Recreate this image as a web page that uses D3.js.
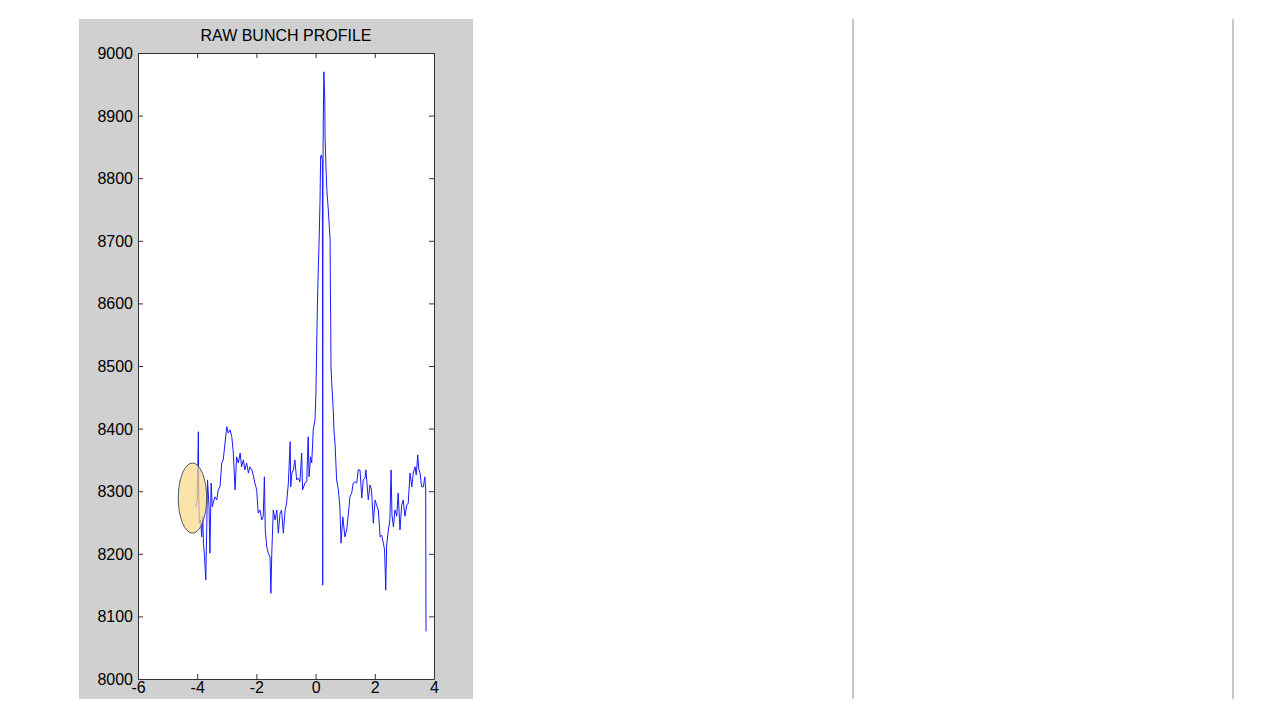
<!DOCTYPE html>
<html>
<head>
<meta charset="utf-8">
<script src="https://cdn.jsdelivr.net/npm/d3@7"></script>
<style>
  html, body { margin: 0; padding: 0; background: #ffffff; }
  svg { display: block; font-family: "Liberation Sans", Arial, sans-serif; }
</style>
</head>
<body>
<svg id="chart" width="1280" height="720"></svg>
<script>
// ---------- data ----------
const chartTitle = "RAW BUNCH PROFILE";
const xDomain = [-6, 4];
const yDomain = [8000, 9000];
const xTicks = [-6, -4, -2, 0, 2, 4];
const yTicks = [8000, 8100, 8200, 8300, 8400, 8500, 8600, 8700, 8800, 8900, 9000];

const profileX = [
  -4.04, -4.00, -3.96, -3.95, -3.93, -3.88, -3.85, -3.81, -3.79, -3.76,
  -3.71, -3.68, -3.65, -3.60, -3.57, -3.53, -3.49, -3.46, -3.40, -3.34,
  -3.29, -3.23, -3.17, -3.12, -3.06, -3.00, -2.95, -2.89, -2.83, -2.78,
  -2.72, -2.67, -2.61, -2.55, -2.50, -2.44, -2.39, -2.33, -2.27, -2.22,
  -2.15, -2.11, -2.05, -1.99, -1.94, -1.88, -1.82, -1.77, -1.73, -1.70,
  -1.65, -1.60, -1.54, -1.51, -1.48, -1.43, -1.37, -1.31, -1.26, -1.20,
  -1.15, -1.09, -1.03, -0.98, -0.92, -0.86, -0.84, -0.80, -0.75, -0.70,
  -0.64, -0.58, -0.53, -0.47, -0.44, -0.36, -0.30, -0.25, -0.22, -0.17,
  -0.13, -0.08, -0.02, 0.01, 0.06, 0.09, 0.12, 0.15, 0.17, 0.19,
  0.23, 0.24, 0.25, 0.26, 0.28, 0.31, 0.32, 0.35, 0.38, 0.43,
  0.46, 0.49, 0.50, 0.51, 0.52, 0.54, 0.60, 0.62, 0.66, 0.71,
  0.77, 0.82, 0.86, 0.92, 0.99, 1.05, 1.11, 1.16, 1.22, 1.27,
  1.33, 1.39, 1.44, 1.50, 1.56, 1.61, 1.67, 1.70, 1.78, 1.84,
  1.89, 1.95, 2.01, 2.06, 2.12, 2.18, 2.23, 2.29, 2.33, 2.37,
  2.40, 2.46, 2.51, 2.55, 2.58, 2.63, 2.68, 2.74, 2.79, 2.85,
  2.91, 2.96, 3.02, 3.08, 3.13, 3.19, 3.25, 3.30, 3.36, 3.40,
  3.45, 3.49, 3.53, 3.58, 3.64, 3.69, 3.72, 3.73
];
const profileY = [
  8275, 8286, 8395, 8302, 8249, 8254, 8227, 8259, 8217, 8201,
  8158, 8238, 8318, 8275, 8201, 8313, 8275, 8281, 8291, 8286,
  8302, 8307, 8345, 8350, 8377, 8403, 8393, 8398, 8387, 8361,
  8302, 8355, 8345, 8361, 8339, 8350, 8334, 8345, 8329, 8339,
  8334, 8326, 8313, 8302, 8265, 8270, 8254, 8259, 8323, 8238,
  8211, 8201, 8195, 8137, 8201, 8270, 8254, 8270, 8233, 8265,
  8270, 8233, 8270, 8281, 8313, 8379, 8307, 8329, 8334, 8350,
  8318, 8321, 8315, 8361, 8302, 8313, 8315, 8387, 8323, 8355,
  8345, 8398, 8414, 8454, 8595, 8653, 8701, 8765, 8834, 8837,
  8829, 8150, 8813, 8893, 8970, 8925, 8864, 8819, 8781, 8749,
  8725, 8701, 8621, 8573, 8499, 8478, 8425, 8398, 8374, 8318,
  8302, 8275, 8217, 8259, 8227, 8238, 8265, 8291, 8297, 8313,
  8315, 8313, 8334, 8334, 8289, 8318, 8321, 8334, 8286, 8310,
  8302, 8249, 8286, 8278, 8270, 8227, 8230, 8217, 8206, 8142,
  8214, 8238, 8254, 8334, 8262, 8243, 8270, 8260, 8297, 8238,
  8278, 8286, 8260, 8278, 8281, 8329, 8307, 8329, 8339, 8326,
  8358, 8334, 8329, 8307, 8307, 8323, 8302, 8076
];

// highlighted region (ellipse): centre x, centre y, radius x, radius y (data units)
const highlightCenter = [-4.16, 8289];
const highlightRadius = [0.48, 56];

// ---------- layout ----------
const svg = d3.select("#chart");
const panel = { x: 79, y: 19, w: 394, h: 680 };
const plot = { left: 138, right: 434, top: 53, bottom: 679 };

const x = d3.scaleLinear().domain(xDomain).range([plot.left, plot.right]);
const y = d3.scaleLinear().domain(yDomain).range([plot.bottom, plot.top]);

// divider lines on right
[853, 1233].forEach(px => {
  svg.append("line")
    .attr("x1", px).attr("x2", px).attr("y1", 19).attr("y2", 699)
    .attr("stroke", "#cacaca").attr("stroke-width", 2);
});

// grey figure panel
svg.append("rect")
  .attr("x", panel.x).attr("y", panel.y).attr("width", panel.w).attr("height", panel.h)
  .attr("fill", "#d0d0d0");

// white axes area
svg.append("rect")
  .attr("x", plot.left).attr("y", plot.top)
  .attr("width", plot.right - plot.left).attr("height", plot.bottom - plot.top)
  .attr("fill", "#ffffff");

// clip
svg.append("clipPath").attr("id", "plotclip")
  .append("rect")
  .attr("x", plot.left).attr("y", plot.top)
  .attr("width", plot.right - plot.left).attr("height", plot.bottom - plot.top);

// profile line
const lineData = profileX.map((v, i) => [v, profileY[i]]);
const line = d3.line().x(d => x(d[0])).y(d => y(d[1]));
svg.append("path")
  .datum(lineData)
  .attr("clip-path", "url(#plotclip)")
  .attr("d", line)
  .attr("fill", "none")
  .attr("stroke", "#1a1aff")
  .attr("stroke-width", 1)
  .attr("stroke-linejoin", "miter");

// highlight ellipse
svg.append("ellipse")
  .attr("cx", x(highlightCenter[0]))
  .attr("cy", y(highlightCenter[1]))
  .attr("rx", x(highlightCenter[0] + highlightRadius[0]) - x(highlightCenter[0]))
  .attr("ry", y(highlightCenter[1]) - y(highlightCenter[1] + highlightRadius[1]))
  .attr("fill", "#fbd885")
  .attr("fill-opacity", 0.72)
  .attr("stroke", "#4a5870")
  .attr("stroke-width", 1);

// axes (MATLAB style inward ticks, mirrored)
const tickLen = 5;
const axisColor = "#333";
const fontSize = 16;
const numFmt = v => String(v);   // plain integers, ASCII hyphen-minus

const axBottom = svg.append("g").attr("transform", `translate(0,${plot.bottom})`)
  .call(d3.axisBottom(x).tickValues(xTicks).tickFormat(numFmt).tickSizeInner(-tickLen).tickSizeOuter(0).tickPadding(4));
const axTop = svg.append("g").attr("transform", `translate(0,${plot.top})`)
  .call(d3.axisTop(x).tickValues(xTicks).tickSizeInner(-tickLen).tickSizeOuter(0).tickFormat(""));
const axLeft = svg.append("g").attr("transform", `translate(${plot.left},0)`)
  .call(d3.axisLeft(y).tickValues(yTicks).tickFormat(numFmt).tickSizeInner(-tickLen).tickSizeOuter(0).tickPadding(5));
const axRight = svg.append("g").attr("transform", `translate(${plot.right},0)`)
  .call(d3.axisRight(y).tickValues(yTicks).tickSizeInner(-tickLen).tickSizeOuter(0).tickFormat(""));

[axBottom, axTop, axLeft, axRight].forEach(g => {
  g.select(".domain").attr("stroke", axisColor).attr("stroke-width", 1);
  g.selectAll(".tick line").attr("stroke", axisColor);
  g.selectAll("text").attr("fill", "#000").style("font-size", fontSize + "px")
    .style("font-family", '"Liberation Sans", Arial, sans-serif');
});
axBottom.selectAll(".tick text").attr("y", 3).attr("dy", "0.71em");
axLeft.selectAll(".tick text").attr("x", -5).attr("dy", "0.34em");

// title
svg.append("text")
  .attr("x", (plot.left + plot.right) / 2)
  .attr("y", 41)
  .attr("text-anchor", "middle")
  .style("font-size", "16px")
  .attr("fill", "#000")
  .text(chartTitle);
</script>
</body>
</html>
